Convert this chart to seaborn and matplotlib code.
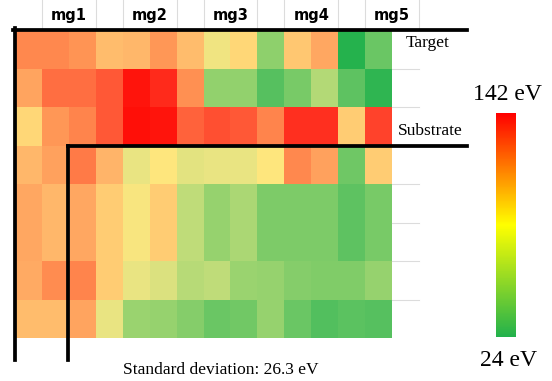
import numpy as np
import pandas as pd
import matplotlib
matplotlib.use("Agg")
import matplotlib.pyplot as plt
import seaborn as sns
from matplotlib.colors import LinearSegmentedColormap, Normalize
from matplotlib.cm import ScalarMappable


# energy values (eV), 8 rows x 14 columns
row0 = [117, 117, 114, 101, 103, 113, 101, 81, 91, 61, 97, 108, 25, 49]
row1 = [109, 123, 123, 127, 140, 136, 115, 62, 62, 42, 54, 70, 45, 29]
row2 = [91, 113, 118, 127, 141, 140, 125, 129, 127, 118, 135, 135, 95, 131]
row3 = [103, 110, 120, 104, 79, 85, 78, 79, 79, 85, 117, 110, 51, 95]
row4 = [108, 103, 108, 95, 83, 95, 72, 63, 68, 56, 56, 56, 45, 54]
row5 = [108, 103, 108, 95, 83, 95, 72, 63, 68, 56, 56, 56, 45, 54]
row6 = [107, 116, 118, 95, 79, 77, 71, 72, 64, 63, 59, 57, 57, 63]
row7 = [101, 101, 109, 79, 64, 63, 59, 49, 52, 63, 49, 41, 44, 42]

group_labels = ["mg1", "mg2", "mg3", "mg4", "mg5"]
vmin, vmax = 24, 142
std_dev = 26.3

grid = pd.DataFrame([row0, row1, row2, row3, row4, row5, row6, row7])


# pale colour scale used for the cells
cell_cmap = LinearSegmentedColormap.from_list("cells", [
    (0.00, (34/255, 177/255, 76/255)),
    (0.15, (85/255, 192/255, 95/255)),
    (0.30, (135/255, 206/255, 106/255)),
    (0.40, (185/255, 219/255, 120/255)),
    (0.47, (235/255, 228/255, 130/255)),
    (0.52, (255/255, 230/255, 125/255)),
    (0.60, (255/255, 205/255, 115/255)),
    (0.68, (255/255, 180/255, 105/255)),
    (0.76, (255/255, 150/255, 85/255)),
    (0.84, (255/255, 110/255, 65/255)),
    (0.92, (255/255, 60/255, 40/255)),
    (1.00, (255/255, 10/255, 5/255)),
])
# vivid scale for the legend bar
bar_cmap = LinearSegmentedColormap.from_list("bar", ["#22b14c", "#ffff00", "#ff0000"])


fig = plt.figure(figsize=(5.52, 3.81), dpi=100)
ax = fig.add_axes([15/552, 1 - 338/381, 377/552, 308/381])

sns.heatmap(grid, cmap=cell_cmap, vmin=vmin, vmax=vmax, cbar=False,
            xticklabels=False, yticklabels=False, ax=ax)

# light spreadsheet-like grid lines outside the cells
for y in range(1, 8):
    ax.plot([14, 15], [y, y], color="#dcdcdc", lw=0.8, clip_on=False, zorder=1)
for x in [1, 3, 4, 6, 7, 9, 10, 12, 13, 15]:
    ax.plot([x, x], [0, -0.8], color="#dcdcdc", lw=0.8, clip_on=False, zorder=1)

# group headers
for i, lab in enumerate(group_labels):
    ax.text(2 + 3*i, -0.37, lab, ha="center", va="center",
            fontsize=10.5, fontweight="bold", family="DejaVu Sans")

# thick black L lines
lw = 2.7
ax.plot([0, 0], [-0.05, 8.57], color="black", lw=lw, clip_on=False, zorder=5)
ax.plot([-0.06, 16.8], [0, 0], color="black", lw=lw, clip_on=False, zorder=5)
ax.plot([1.97, 1.97], [3, 8.57], color="black", lw=lw, clip_on=False, zorder=5)
ax.plot([1.97, 16.8], [3, 3], color="black", lw=lw, clip_on=False, zorder=5)

ax.text(15.34, 0.34, "Target", ha="center", va="center", fontsize=12.5,
        family="Liberation Serif")
ax.text(15.43, 2.63, "Substrate", ha="center", va="center", fontsize=12.5,
        family="Liberation Serif")

fig.text(221/552, 1 - 370/381, "Standard deviation: %.1f eV" % std_dev,
         ha="center", va="center", fontsize=12.5, family="Liberation Serif")

# legend bar
cax = fig.add_axes([496/552, 1 - 337/381, 20/552, 224/381])
cb = fig.colorbar(ScalarMappable(norm=Normalize(vmin, vmax), cmap=bar_cmap), cax=cax)
cb.outline.set_visible(False)
cax.set_yticks([])
fig.text(507/552, 1 - 95/381, "%d eV" % vmax, ha="center", va="center",
         fontsize=17, family="Liberation Serif")
fig.text(508/552, 1 - 361/381, "%d eV" % vmin, ha="center", va="center",
         fontsize=17, family="Liberation Serif")

fig.savefig("out.png", dpi=100)
